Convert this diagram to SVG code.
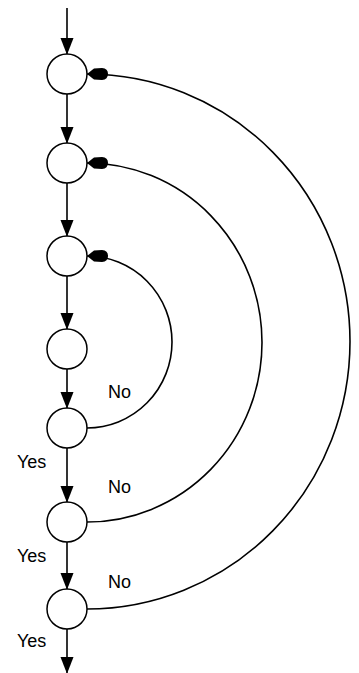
<svg xmlns="http://www.w3.org/2000/svg" width="359" height="673" viewBox="0 0 359 673">
<style>
.node{fill:#fff;stroke:#000;stroke-width:1.5}
.edge{fill:none;stroke:#000;stroke-width:1.6}
.lbl{font-family:"Liberation Sans",Arial,sans-serif;font-size:18px;fill:#000}
</style>
<defs>
<marker id="arr" markerUnits="userSpaceOnUse" markerWidth="18" markerHeight="14" viewBox="-17 -7 18 14" refX="0" refY="0" orient="auto">
<path d="M0,0 L-3,-1.5 L-16,-6.5 L-16,6.5 L-3,1.5 Z" fill="#000"/>
</marker>
<marker id="blob" markerUnits="userSpaceOnUse" markerWidth="24" markerHeight="14" viewBox="-23 -7 24 14" refX="0" refY="0" orient="auto">
<path d="M0,0 L-7,-5.5 L-15,-6 Q-21,-5.5 -21,0 Q-21,5.5 -15,6 L-7,5.5 Z" fill="#000"/>
</marker>
</defs>
<g id="connectors">
<line class="edge" x1="67" y1="8" x2="67" y2="54" marker-end="url(#arr)"/>
<line class="edge" x1="67" y1="94" x2="67" y2="143" marker-end="url(#arr)"/>
<line class="edge" x1="67" y1="183" x2="67" y2="236" marker-end="url(#arr)"/>
<line class="edge" x1="67" y1="276" x2="67" y2="329" marker-end="url(#arr)"/>
<line class="edge" x1="67" y1="369" x2="67" y2="408" marker-end="url(#arr)"/>
<line class="edge" x1="67" y1="448" x2="67" y2="502" marker-end="url(#arr)"/>
<line class="edge" x1="67" y1="542" x2="67" y2="589" marker-end="url(#arr)"/>
<line class="edge" x1="67" y1="628" x2="67" y2="673" marker-end="url(#arr)"/>
<path class="edge" d="M87,428 A85 86 0 0 0 87,256" marker-end="url(#blob)"/>
<path class="edge" d="M87,522 A175 179.5 0 0 0 87,163" marker-end="url(#blob)"/>
<path class="edge" d="M87,609 A263 267.5 0 0 0 87,74" marker-end="url(#blob)"/>
</g>
<g id="n1"><circle class="node" cx="67" cy="74" r="20"/></g>
<g id="n2"><circle class="node" cx="67" cy="163" r="20"/></g>
<g id="n3"><circle class="node" cx="67" cy="256" r="20"/></g>
<g id="n4"><circle class="node" cx="67" cy="349" r="20"/></g>
<g id="n5"><circle class="node" cx="67" cy="428" r="20"/></g>
<g id="n6"><circle class="node" cx="67" cy="522" r="20"/></g>
<g id="n7"><circle class="node" cx="67" cy="609" r="20"/></g>
<g id="labels">
<text class="lbl" x="108" y="398">No</text>
<text class="lbl" x="108" y="493">No</text>
<text class="lbl" x="108" y="588">No</text>
<text class="lbl" x="17" y="468">Yes</text>
<text class="lbl" x="17" y="562">Yes</text>
<text class="lbl" x="17" y="647">Yes</text>
</g>
</svg>
